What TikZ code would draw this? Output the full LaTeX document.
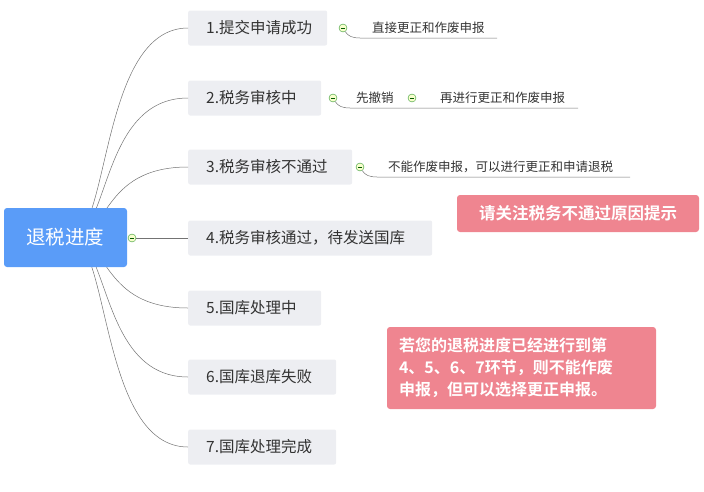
\documentclass[tikz,border=0pt]{standalone}
\usepackage{fontspec}
\setmainfont{Noto Sans CJK SC}
\newfontfamily\cjkb{Noto Sans CJK SC Bold}
\definecolor{pinkc}{HTML}{EF8590}
\definecolor{rootc}{HTML}{5A9CF8}
\definecolor{boxc}{HTML}{EDEEF2}
\begin{document}
\begin{tikzpicture}[x=1pt,y=-1pt,
  br/.style={fill=boxc,rounded corners=2pt,anchor=west,minimum height=35pt,inner xsep=0pt},
  sm/.style={font=\fontsize{12.5}{14}\selectfont,text=black!80,inner sep=1pt},
  tg/.style={circle,draw=green!50!black!80,fill=green!15!yellow!20,minimum size=8pt,inner sep=0pt,path picture={\draw[green!35!black,line width=0.6pt] ([xshift=-2pt]path picture bounding box.center)--([xshift=2pt]path picture bounding box.center);}},
  ln/.style={draw=black!55,line width=0.5pt},
  pk/.style={fill=pinkc,rounded corners=3pt,text=white}]
\useasboundingbox (0,0) rectangle (704,491);
\coordinate (o) at (70,238);
\foreach \y/\n/\w/\t in {28/b1/139/1.提交申请成功,98/b2/133/2.税务审核中,167/b3/164/3.税务审核不通过,238/b4/244/4.税务审核通过，待发送国库,308/b5/133/5.国库处理中,377/b6/148/6.国库退库失败,447/b7/148/7.国库处理完成}{
  \node[br,minimum width=\w pt] (\n) at (188,\y) {};
  \node[anchor=west,font=\fontsize{15.5}{17}\selectfont,text=black!80,inner sep=0pt] at (206,\y) {\t};
}
\foreach \b in {b1,b2,b3,b5,b6,b7}{\draw[ln] (o) .. controls (110,238) and (100,0|-\b.west) .. (\b.west);}
\node[fill=rootc,rounded corners=3pt,minimum width=123pt,minimum height=59pt,text=white,font=\fontsize{19.5}{21}\selectfont] (root) at (65.5,237.5) {退税进度};
\node[tg] (rt) at (132,238) {};
\draw[ln] (rt.east) -- (b4.west);
% subitems
\node[tg] (t1) at (343,28) {};
\node[sm,anchor=west] (s1) at (371,28) {直接更正和作废申报};
\coordinate (e1) at (497,38);
\draw[ln] (t1) .. controls (348,36) and (352,38) .. (360,38) -- (e1);
\node[tg] (t2) at (333,98) {};
\node[sm,anchor=west] (s2) at (355,98) {先撤销};
\node[tg] (t2b) at (412,98) {};
\node[sm,anchor=west] (s2b) at (439,98) {再进行更正和作废申报};
\coordinate (e2) at (578,108);
\draw[ln] (t2) .. controls (338,106) and (342,108) .. (350,108) -- (e2);
\node[tg] (t3) at (360,167) {};
\node[sm,anchor=west] (s3) at (387,167) {不能作废申报，可以进行更正和申请退税};
\coordinate (e3) at (630,177);
\draw[ln] (t3) .. controls (365,175) and (369,177) .. (377,177) -- (e3);
\node[pk,minimum width=242pt,minimum height=37pt,font=\cjkb\fontsize{16.5}{18}\selectfont] (p1) at (578,213.5) {请关注税务不通过原因提示};
\node[pk,minimum width=269pt,minimum height=82pt,text width=245pt,align=left,font=\cjkb\fontsize{16}{22}\selectfont] (p2) at (521.5,368) {若您的退税进度已经进行到第\\4、5、6、7环节，则不能作废\\申报，但可以选择更正申报。};
\end{tikzpicture}
\end{document}
